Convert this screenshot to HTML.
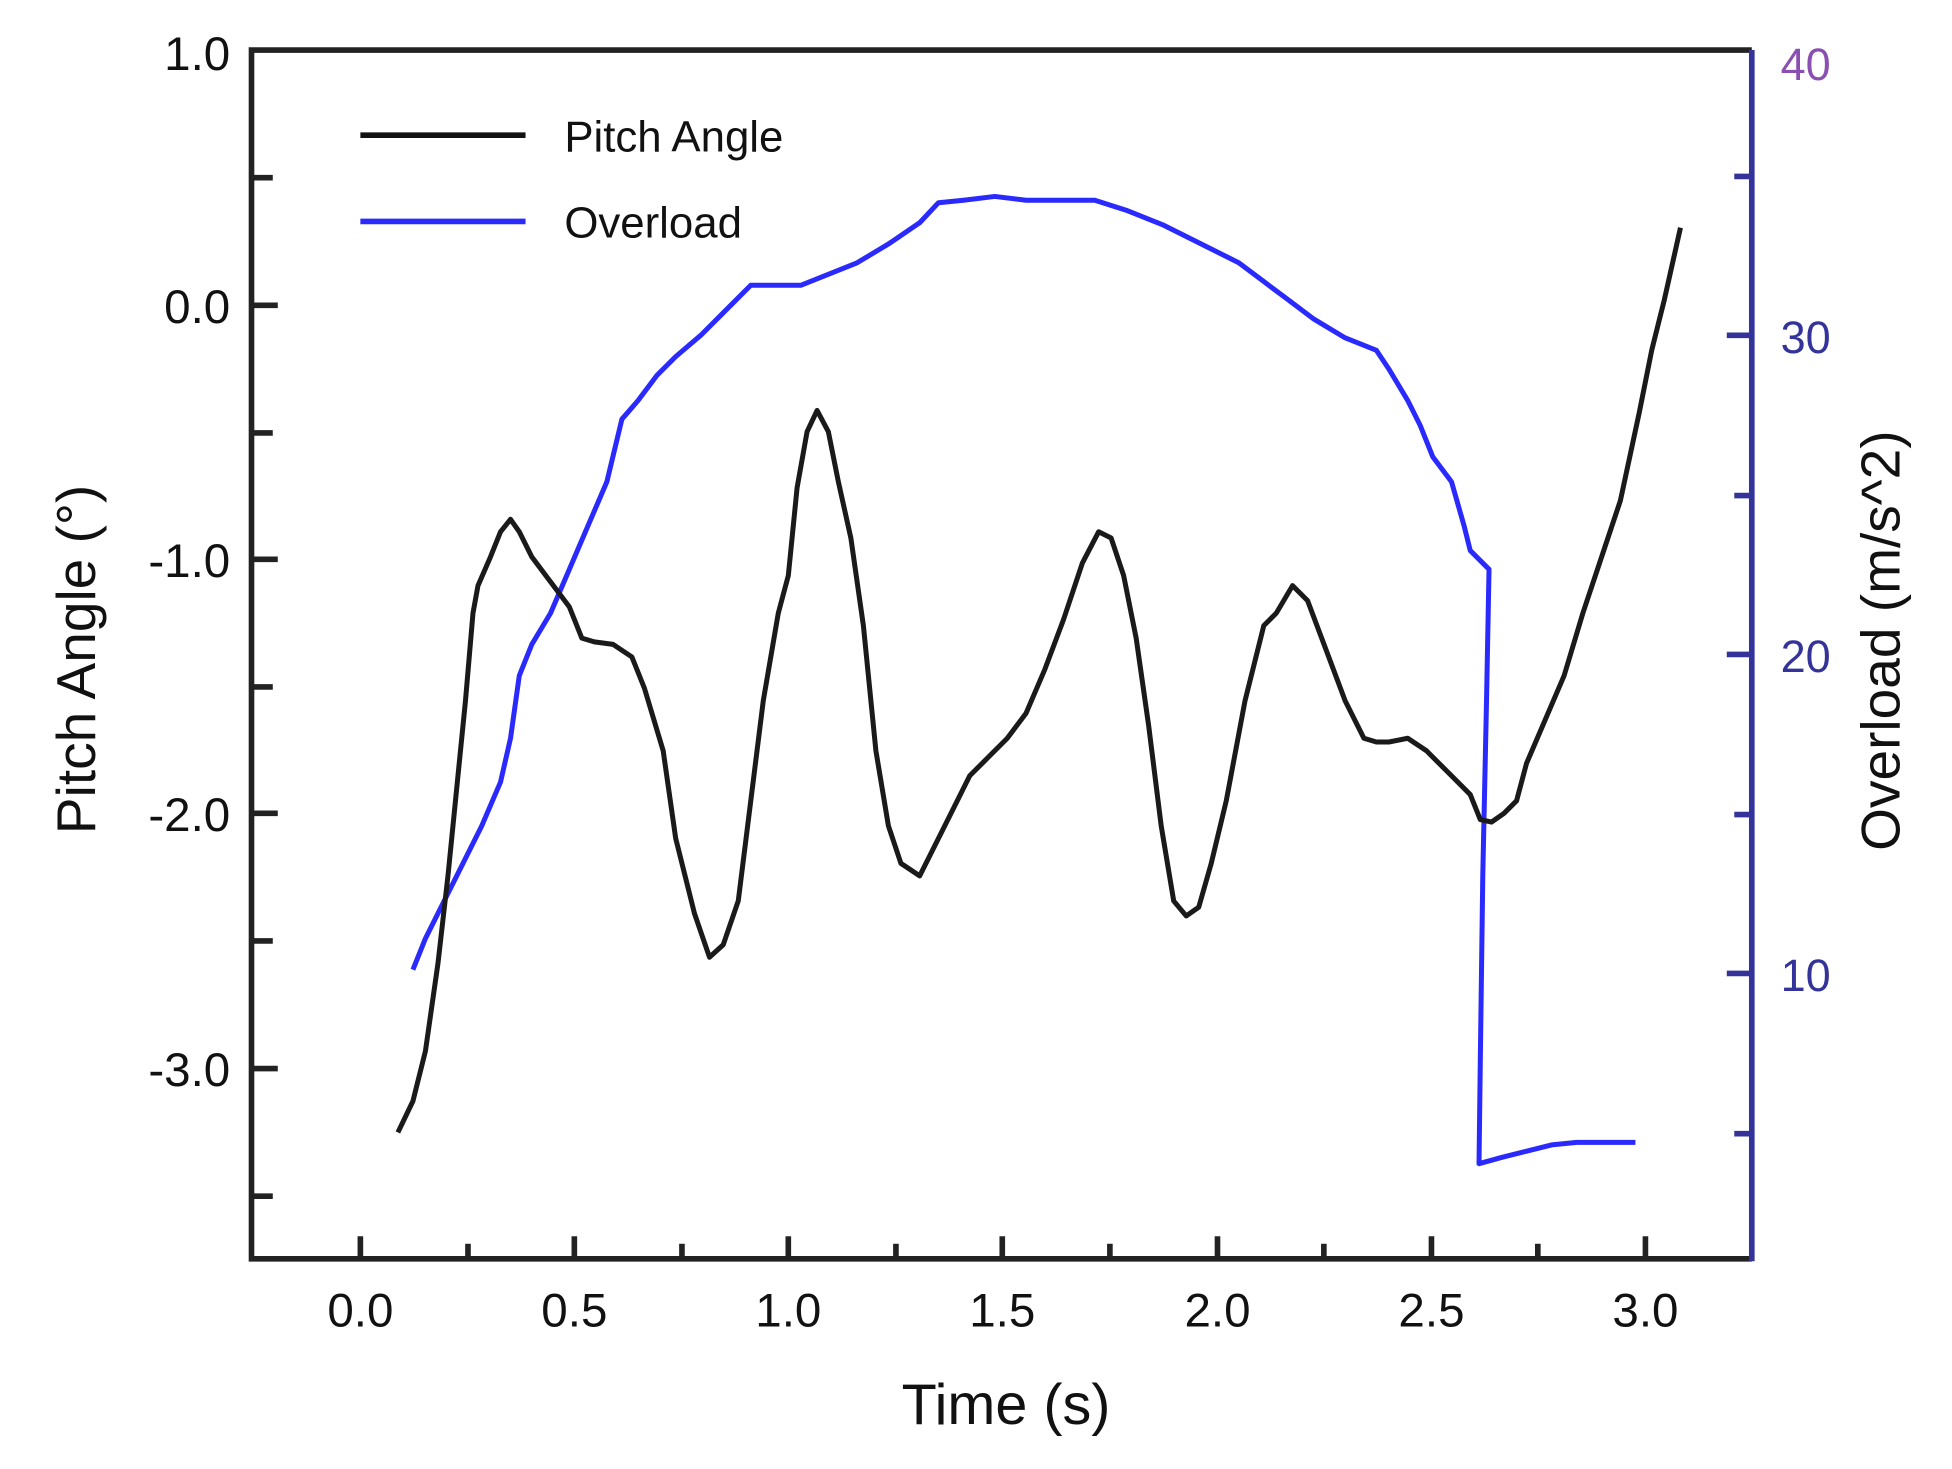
<!DOCTYPE html>
<html><head><meta charset="utf-8"><style>
html,body{margin:0;padding:0;background:#fff;}
svg{display:block;}
text{font-family:"Liberation Sans",Arial,sans-serif;}
</style></head><body>
<svg width="1952" height="1469" viewBox="0 0 1560 1174" preserveAspectRatio="none" xmlns="http://www.w3.org/2000/svg">
<rect width="1560" height="1174" fill="#fff"/>
<g stroke="#222" stroke-width="4.5">
<line x1="201" y1="142" x2="218" y2="142"/><line x1="201" y1="244" x2="222" y2="244"/>
<line x1="201" y1="346" x2="218" y2="346"/><line x1="201" y1="447" x2="222" y2="447"/>
<line x1="201" y1="549" x2="218" y2="549"/><line x1="201" y1="650" x2="222" y2="650"/>
<line x1="201" y1="752" x2="218" y2="752"/><line x1="201" y1="854" x2="222" y2="854"/>
<line x1="201" y1="956" x2="218" y2="956"/>
<line x1="288" y1="1006" x2="288" y2="988"/><line x1="374" y1="1006" x2="374" y2="994"/>
<line x1="459" y1="1006" x2="459" y2="988"/><line x1="545" y1="1006" x2="545" y2="994"/>
<line x1="630" y1="1006" x2="630" y2="988"/><line x1="716" y1="1006" x2="716" y2="994"/>
<line x1="801" y1="1006" x2="801" y2="988"/><line x1="887" y1="1006" x2="887" y2="994"/>
<line x1="973" y1="1006" x2="973" y2="988"/><line x1="1058" y1="1006" x2="1058" y2="994"/>
<line x1="1144" y1="1006" x2="1144" y2="988"/><line x1="1229" y1="1006" x2="1229" y2="994"/>
<line x1="1315" y1="1006" x2="1315" y2="988"/>
</g>
<g stroke="#33339a" stroke-width="4.5">
<line x1="1386" y1="141" x2="1400" y2="141"/><line x1="1380" y1="268" x2="1400" y2="268"/>
<line x1="1386" y1="396" x2="1400" y2="396"/><line x1="1380" y1="523" x2="1400" y2="523"/>
<line x1="1386" y1="651" x2="1400" y2="651"/><line x1="1380" y1="778" x2="1400" y2="778"/>
<line x1="1386" y1="906" x2="1400" y2="906"/>
</g>
<polyline fill="none" stroke="#222" stroke-width="4.5" points="1400,1006 201,1006 201,40 1400,40"/>
<line x1="1400" y1="40" x2="1400" y2="1008" stroke="#33339a" stroke-width="4.5"/>
<g font-size="38" fill="#111" text-anchor="end">
<text x="184" y="56">1.0</text><text x="184" y="258">0.0</text><text x="184" y="461">-1.0</text>
<text x="184" y="664">-2.0</text><text x="184" y="868">-3.0</text>
</g>
<g font-size="38" fill="#111" text-anchor="middle">
<text x="288" y="1060">0.0</text><text x="459" y="1060">0.5</text><text x="630" y="1060">1.0</text>
<text x="801" y="1060">1.5</text><text x="973" y="1060">2.0</text><text x="1144" y="1060">2.5</text>
<text x="1315" y="1060">3.0</text>
</g>
<g font-size="36" fill="#33339a" text-anchor="start">
<text x="1423" y="64" fill="#8a4fb0">40</text><text x="1423" y="282">30</text>
<text x="1423" y="537">20</text><text x="1423" y="792">10</text>
</g>
<text x="804" y="1138" font-size="46" fill="#111" text-anchor="middle">Time (s)</text>
<text transform="translate(76,527) rotate(-90)" font-size="44" fill="#111" text-anchor="middle">Pitch Angle (°)</text>
<text transform="translate(1518,512) rotate(-90)" font-size="44" fill="#111" text-anchor="middle">Overload (m/s^2)</text>
<line x1="288" y1="108" x2="420" y2="108" stroke="#111" stroke-width="4.5"/>
<text x="451" y="121" font-size="35" fill="#111">Pitch Angle</text>
<line x1="288" y1="177" x2="420" y2="177" stroke="#2a2aff" stroke-width="4.5"/>
<text x="451" y="190" font-size="35" fill="#111">Overload</text>
<polyline fill="none" stroke="#2a2aff" stroke-width="4" stroke-linejoin="round" points="330,775 340,750 355,720 370,690 385,660 400,625 408,590 415,540 425,515 440,490 455,455 470,420 485,385 497,335 510,320 525,300 540,285 560,268 580,248 600,228 640,228 660,220 685,210 710,195 735,178 750,162 770,160 795,157 820,160 845,160 875,160 900,168 930,180 960,195 990,210 1010,225 1030,240 1050,255 1075,270 1100,280 1110,295 1125,320 1135,340 1145,365 1160,385 1170,420 1175,440 1190,455 1188,560 1185,700 1183,850 1182,930 1200,925 1220,920 1240,915 1260,913 1307,913"/>
<polyline fill="none" stroke="#1a1a1a" stroke-width="4" stroke-linejoin="round" points="318,905 330,880 340,840 350,770 358,700 366,620 372,560 378,490 382,468 392,445 400,425 408,415 415,425 425,445 440,465 455,485 465,510 475,513 490,515 505,525 515,550 530,600 540,670 555,730 567,765 578,755 590,720 600,640 610,560 622,490 630,460 637,390 645,345 653,328 662,345 670,385 680,430 690,500 700,600 710,660 720,690 735,700 745,680 760,650 775,620 790,605 805,590 820,570 835,535 850,495 865,450 878,425 888,430 898,460 908,510 918,580 928,660 938,720 948,732 958,725 968,690 980,640 995,560 1010,500 1020,490 1033,468 1045,480 1060,520 1075,560 1090,590 1100,593 1110,593 1125,590 1140,600 1160,620 1175,635 1183,655 1192,657 1202,650 1212,640 1220,610 1235,575 1250,540 1265,490 1280,445 1295,400 1310,330 1320,280 1330,240 1343,182"/>
</svg>
</body></html>
